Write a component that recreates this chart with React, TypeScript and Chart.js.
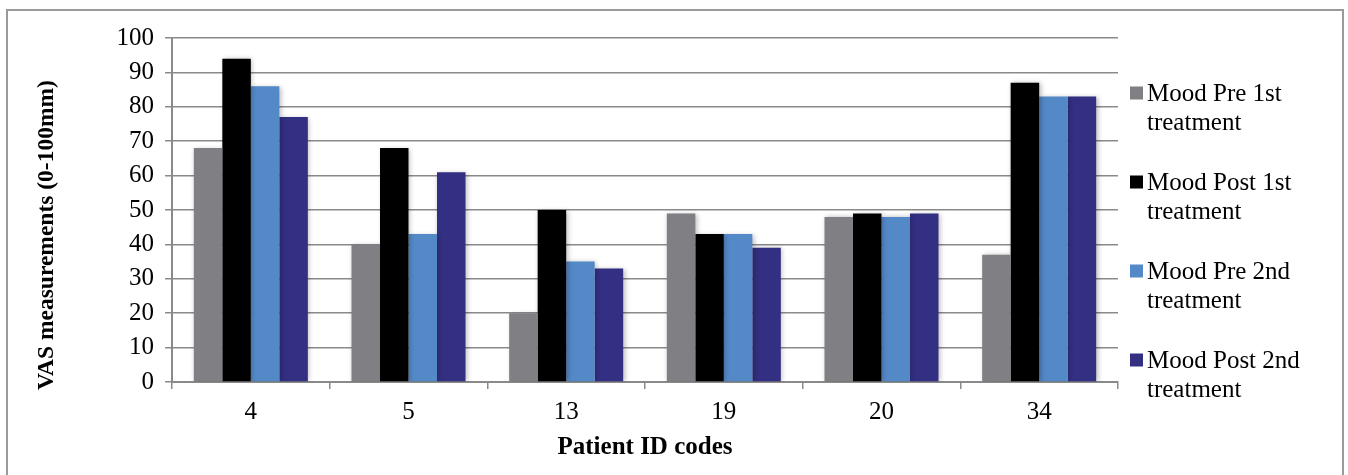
import { useEffect, useRef } from "react";
import { Chart, registerables } from "chart.js";

Chart.register(...registerables);

// Patient IDs along the x axis
const patientIds = ["4", "5", "13", "19", "20", "34"];

// VAS mood scores (0-100mm) per patient
const moodPre1st = [68, 40, 20, 49, 48, 37];
const moodPost1st = [94, 68, 50, 43, 49, 87];
const moodPre2nd = [86, 43, 35, 43, 48, 83];
const moodPost2nd = [77, 61, 33, 39, 49, 83];

// Legend labels, split over two lines each
const seriesLabels = [
  ["Mood Pre 1st", "treatment"],
  ["Mood Post 1st", "treatment"],
  ["Mood Pre 2nd", "treatment"],
  ["Mood Post 2nd", "treatment"],
];
const seriesColors = ["#7f7f84", "#000000", "#5489c8", "#332f82"];

const yAxisTitle = "VAS measurements (0-100mm)";
const xAxisTitle = "Patient ID codes";
const yMin = 0;
const yMax = 100;
const yStep = 10;

const FONT = "'Liberation Serif', 'Times New Roman', serif";
const GRID = "#8a8a8a";
const W = 1348;
const H = 475;

const framePlugin = {
  id: "frame",
  beforeDraw(chart: any) {
    const ctx = chart.ctx;
    ctx.save();
    ctx.fillStyle = "#ffffff";
    ctx.fillRect(0, 0, chart.width, chart.height);
    ctx.strokeStyle = "#9a9a9a";
    ctx.lineWidth = 2;
    ctx.strokeRect(7, 10, 1336, 480);
    ctx.restore();
  },
};

const shadowPlugin = {
  id: "barShadow",
  beforeDatasetsDraw(chart: any) {
    const ctx = chart.ctx;
    ctx.save();
    ctx.shadowColor = "rgba(0,0,0,0.28)";
    ctx.shadowBlur = 5;
    ctx.shadowOffsetX = 1.5;
    ctx.shadowOffsetY = 0.5;
  },
  afterDatasetsDraw(chart: any) {
    chart.ctx.restore();
  },
};

const labelsPlugin = {
  id: "titlesAndLegend",
  afterDraw(chart: any) {
    const ctx = chart.ctx;
    const area = chart.chartArea;
    ctx.save();
    ctx.fillStyle = "#000000";
    ctx.textAlign = "center";
    ctx.textBaseline = "middle";
    // x axis title
    ctx.font = `bold 25px ${FONT}`;
    ctx.fillText(xAxisTitle, (area.left + area.right) / 2, 448);
    // y axis title, rotated
    ctx.font = `bold 23.5px ${FONT}`;
    ctx.save();
    ctx.translate(47, 235);
    ctx.rotate(-Math.PI / 2);
    ctx.fillText(yAxisTitle, 0, 0);
    ctx.restore();

    // legend
    ctx.textAlign = "left";
    ctx.font = `25px ${FONT}`;
    const startY = 93;
    const gap = 89;
    const lineH = 29;
    chart.data.datasets.forEach((ds: any, i: number) => {
      const y = startY + i * gap;
      ctx.fillStyle = ds.backgroundColor;
      ctx.fillRect(1130, y - 6.5, 13, 13);
      ctx.fillStyle = "#000000";
      seriesLabels[i].forEach((line, j) => {
        ctx.fillText(line, 1147, y + 1 + j * lineH);
      });
    });
    ctx.restore();
  },
};

export default function App() {
  const canvasRef = useRef<HTMLCanvasElement | null>(null);

  useEffect(() => {
    document.body.style.margin = "0";
    const canvas = canvasRef.current;
    if (!canvas) return;
    const values = [moodPre1st, moodPost1st, moodPre2nd, moodPost2nd];
    const chart = new Chart(canvas, {
      type: "bar",
      data: {
        labels: patientIds,
        datasets: values.map((data, i) => ({
          label: seriesLabels[i].join(" "),
          data,
          backgroundColor: seriesColors[i],
          borderWidth: 0,
          categoryPercentage: 0.723,
          barPercentage: 1.0,
        })),
      },
      options: {
        animation: false,
        responsive: false,
        maintainAspectRatio: false,
        devicePixelRatio: 1,
        layout: { padding: { left: 0, top: 38, right: W - 1118, bottom: 0 } },
        plugins: {
          legend: { display: false },
          tooltip: { enabled: false },
        },
        scales: {
          x: {
            grid: {
              offset: true,
              drawOnChartArea: false,
              drawTicks: true,
              tickLength: 7,
              color: GRID,
              lineWidth: 1.5,
            },
            border: { display: true, color: GRID, width: 2 },
            ticks: {
              color: "#000000",
              font: { family: FONT, size: 25 },
              padding: 8,
            },
            afterFit(scale: any) {
              scale.height = H - 382;
            },
          },
          y: {
            min: yMin,
            max: yMax,
            ticks: {
              stepSize: yStep,
              color: "#000000",
              font: { family: FONT, size: 25 },
              padding: 11,
            },
            grid: {
              color: GRID,
              lineWidth: 1.5,
              drawTicks: true,
              tickLength: 7,
            },
            border: { display: true, color: GRID, width: 2 },
            afterFit(scale: any) {
              scale.width = 172;
            },
          },
        },
      },
      plugins: [framePlugin, shadowPlugin, labelsPlugin],
    });
    return () => chart.destroy();
  }, []);

  return (
    <div style={{ width: W, height: H }}>
      <canvas ref={canvasRef} width={W} height={H} style={{ display: "block" }} />
    </div>
  );
}
